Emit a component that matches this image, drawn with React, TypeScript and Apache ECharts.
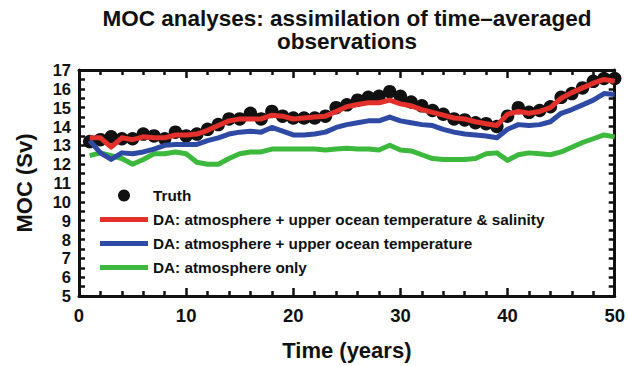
import React, { useEffect, useRef } from "react";
import * as echarts from "echarts";

const years: number[] = Array.from({ length: 50 }, (_, i) => i + 1);

const truth: number[] = [
  13.2, 13.3, 13.45, 13.35, 13.35, 13.6, 13.5, 13.35, 13.7, 13.5,
  13.6, 13.85, 14.1, 14.4, 14.4, 14.7, 14.4, 14.8, 14.55, 14.45,
  14.45, 14.45, 14.55, 15.0, 15.15, 15.4, 15.55, 15.6, 15.85, 15.6,
  15.3, 15.1, 14.85, 14.65, 14.4, 14.35, 14.2, 14.15, 14.0, 14.55,
  15.0, 14.75, 14.85, 15.05, 15.55, 15.75, 16.05, 16.4, 16.55, 16.55,
];

const daTempSal: number[] = [
  13.4, 13.4, 12.9, 13.4, 13.3, 13.45, 13.4, 13.4, 13.55, 13.55,
  13.6, 13.8, 14.05, 14.3, 14.4, 14.4, 14.4, 14.6, 14.55, 14.4,
  14.45, 14.5, 14.55, 14.8, 15.05, 15.17, 15.26, 15.26, 15.4, 15.2,
  15.1, 14.9, 14.75, 14.6, 14.45, 14.4, 14.25, 14.15, 14.05, 14.65,
  14.8, 14.7, 14.8, 15.0, 15.5, 15.8, 16.05, 16.3, 16.5, 16.4,
];

const daTemp: number[] = [
  13.25, 12.6, 12.25, 12.6, 12.55, 12.65, 12.8, 13.0, 13.05, 13.05,
  13.05, 13.25, 13.4, 13.6, 13.7, 13.75, 13.7, 13.95, 13.75, 13.55,
  13.55, 13.6, 13.7, 13.95, 14.1, 14.2, 14.3, 14.3, 14.5, 14.3,
  14.2, 14.1, 14.05, 13.85, 13.7, 13.6, 13.55, 13.5, 13.4, 13.85,
  14.1, 14.05, 14.1, 14.25, 14.7, 14.9, 15.15, 15.4, 15.75, 15.7,
];

const daAtmos: number[] = [
  12.45, 12.6, 12.45, 12.3, 12.0, 12.25, 12.55, 12.55, 12.65, 12.55,
  12.1, 12.0, 12.0, 12.3, 12.55, 12.65, 12.65, 12.8, 12.8, 12.8,
  12.8, 12.8, 12.75, 12.8, 12.85, 12.8, 12.8, 12.75, 13.0, 12.75,
  12.7, 12.5, 12.3, 12.25, 12.25, 12.25, 12.3, 12.55, 12.6, 12.2,
  12.5, 12.6, 12.55, 12.5, 12.65, 12.9, 13.15, 13.35, 13.55, 13.45,
];

const seriesNames: string[] = [
  "Truth",
  "DA: atmosphere + upper ocean temperature & salinity",
  "DA: atmosphere + upper ocean temperature",
  "DA: atmosphere only",
];

const FONT = "'Liberation Sans', Arial, Helvetica, sans-serif";
const INK = "#111111";

const pairs = (vals: number[]) => years.map((y, i) => [y, vals[i]]);

export default function App() {
  const ref = useRef<HTMLDivElement>(null);

  useEffect(() => {
    if (!ref.current) return;
    const chart = echarts.init(ref.current, undefined, { renderer: "svg" });

    const axisLine = { show: true, onZero: false, lineStyle: { color: INK, width: 3 } };
    const tickStyle = { color: INK, width: 2.5 };

    const xBase = {
      type: "value" as const,
      min: 0,
      max: 50,
      interval: 10,
      axisLine,
      splitLine: { show: false },
      axisTick: { show: true, inside: true, length: 8, lineStyle: tickStyle },
      minorTick: { show: true, splitNumber: 5, length: 5, lineStyle: tickStyle },
    };
    const yBase = {
      type: "value" as const,
      min: 5,
      max: 17,
      interval: 1,
      axisLine,
      splitLine: { show: false },
      axisTick: { show: true, inside: true, length: 6, lineStyle: tickStyle },
      minorTick: { show: true, splitNumber: 2, length: 6, lineStyle: tickStyle },
    };

    const lineSeries = (name: string, vals: number[], color: string) => ({
      name,
      type: "line" as const,
      data: pairs(vals),
      showSymbol: false,
      symbol: "none",
      lineStyle: { color, width: 5, join: "round" as const },
      itemStyle: { color },
      z: 3,
    });

    chart.setOption({
      animation: false,
      backgroundColor: "#ffffff",
      title: {
        text: "MOC analyses: assimilation of time\u2013averaged\nobservations",
        left: 347,
        top: 7,
        padding: 0,
        textAlign: "center",
        textStyle: {
          fontFamily: FONT,
          fontWeight: "bold",
          fontSize: 22.5,
          lineHeight: 23,
          color: INK,
        },
      },
      grid: { left: 79, right: 12, top: 70, bottom: 67, containLabel: false },
      legend: {
        orient: "vertical",
        left: 100,
        top: 188,
        padding: 0,
        itemWidth: 48,
        itemHeight: 12,
        itemGap: 9,
        symbolKeepAspect: true,
        selectedMode: false,
        itemStyle: { borderWidth: 0 },
        textStyle: {
          fontFamily: FONT,
          fontWeight: "bold",
          fontSize: 15.3,
          lineHeight: 15,
          color: INK,
        },
        data: [
          { name: seriesNames[0], icon: "circle" },
          { name: seriesNames[1], icon: "path://M0 0H48V5H0Z" },
          { name: seriesNames[2], icon: "path://M0 0H48V5H0Z" },
          { name: seriesNames[3], icon: "path://M0 0H48V5H0Z" },
        ],
      },
      xAxis: [
        {
          ...xBase,
          position: "bottom",
          name: "Time (years)",
          nameLocation: "middle",
          nameGap: 43,
          nameTextStyle: { fontFamily: FONT, fontWeight: "bold", fontSize: 22, color: INK },
          axisLabel: {
            show: true,
            showMinLabel: true,
            showMaxLabel: true,
            margin: 10,
            fontFamily: FONT,
            fontWeight: "bold",
            fontSize: 18.5,
            color: INK,
          },
        },
        {
          ...xBase,
          position: "top",
          axisLabel: { show: false },
        },
      ],
      yAxis: [
        {
          ...yBase,
          position: "left",
          name: "MOC (Sv)",
          nameLocation: "middle",
          nameGap: 44,
          nameRotate: 90,
          nameTextStyle: { fontFamily: FONT, fontWeight: "bold", fontSize: 22, color: INK },
          axisLabel: {
            show: true,
            showMinLabel: true,
            showMaxLabel: true,
            hideOverlap: false,
            margin: 8,
            fontFamily: FONT,
            fontWeight: "bold",
            fontSize: 16.5,
            lineHeight: 16,
            color: INK,
          },
        },
        {
          ...yBase,
          position: "right",
          axisLabel: { show: false },
        },
      ],
      series: [
        {
          name: seriesNames[0],
          type: "scatter",
          data: pairs(truth),
          symbol: "circle",
          symbolSize: 13.5,
          itemStyle: { color: INK, opacity: 1 },
          z: 2,
        },
        lineSeries(seriesNames[3], daAtmos, "#3cb93c"),
        lineSeries(seriesNames[2], daTemp, "#2f4aa4"),
        lineSeries(seriesNames[1], daTempSal, "#e3302a"),
      ],
    });

    return () => chart.dispose();
  }, []);

  return <div ref={ref} style={{ width: 628, height: 366, position: "absolute", left: 0, top: 0 }} />;
}
